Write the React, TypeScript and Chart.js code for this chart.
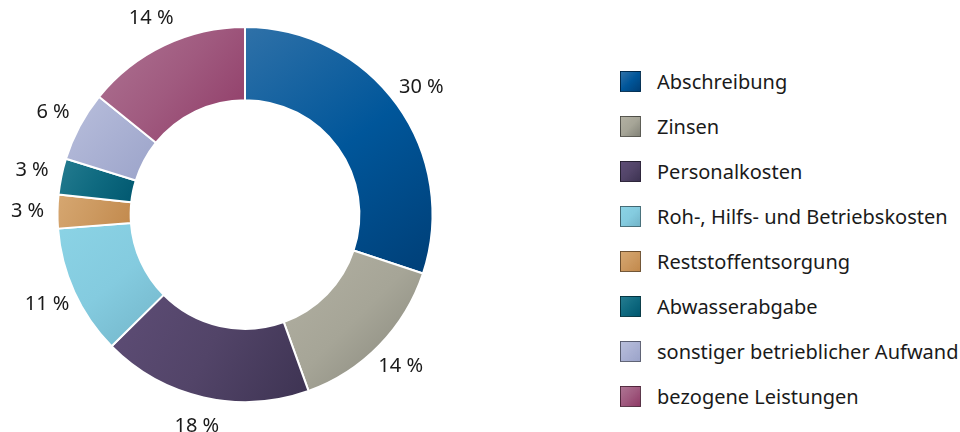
import React, { useEffect, useRef } from "react";
import { Chart, registerables } from "chart.js";

Chart.register(...registerables);

const categories = [
  "Abschreibung",
  "Zinsen",
  "Personalkosten",
  "Roh-, Hilfs- und Betriebskosten",
  "Reststoffentsorgung",
  "Abwasserabgabe",
  "sonstiger betrieblicher Aufwand",
  "bezogene Leistungen",
];
const shares = [30.1, 14.4, 18.1, 11.2, 2.9, 3.1, 6.0, 14.2];
const shareLabels = ["30 %", "14 %", "18 %", "11 %", "3 %", "3 %", "6 %", "14 %"];
const lightColors = ["#2f71a8", "#b3b1a3", "#5e4d76", "#8bd3e5", "#d6a771", "#257c90", "#b9bfdc", "#ae7493"];
const midColors = ["#00569a", "#a6a597", "#524468", "#84cbdf", "#cc9960", "#0f6a80", "#aab1d3", "#a05a7f"];
const darkColors = ["#003f77", "#838378", "#3d3352", "#72b4c8", "#c2894c", "#00576f", "#9ba3c9", "#8f3a66"];

const FONT = "'Noto Sans', sans-serif";

function sliceGradient(ctx: CanvasRenderingContext2D, area: any, idx: number) {
  const cx = (area.left + area.right) / 2;
  const cy = (area.top + area.bottom) / 2;
  const R = Math.min(area.right - area.left, area.bottom - area.top) / 2 - 1;
  const r = R * 0.61;
  const total = shares.reduce((a, b) => a + b, 0);
  let start = 0;
  for (let i = 0; i < idx; i++) start += shares[i];
  const a0 = -Math.PI / 2 + (start / total) * Math.PI * 2;
  const a1 = a0 + (shares[idx] / total) * Math.PI * 2;
  let minX = Infinity, minY = Infinity, maxX = -Infinity, maxY = -Infinity;
  for (let k = 0; k <= 24; k++) {
    const a = a0 + ((a1 - a0) * k) / 24;
    for (const rad of [R, r]) {
      const x = cx + rad * Math.cos(a);
      const y = cy + rad * Math.sin(a);
      minX = Math.min(minX, x); maxX = Math.max(maxX, x);
      minY = Math.min(minY, y); maxY = Math.max(maxY, y);
    }
  }
  const g = ctx.createLinearGradient(minX, minY, maxX, maxY);
  g.addColorStop(0, lightColors[idx]);
  g.addColorStop(0.5, midColors[idx]);
  g.addColorStop(1, darkColors[idx]);
  return g;
}

const labelPlugin = {
  id: "sliceLabels",
  afterDatasetsDraw(chart: any) {
    const ctx = chart.ctx;
    const meta = chart.getDatasetMeta(0);
    ctx.save();
    ctx.font = `20px ${FONT}`;
    ctx.fillStyle = "#1a1a1a";
    ctx.textAlign = "center";
    ctx.textBaseline = "middle";
    meta.data.forEach((arc: any, i: number) => {
      const p = arc.getProps(["x", "y", "startAngle", "endAngle", "outerRadius"], true);
      const mid = (p.startAngle + p.endAngle) / 2;
      const rr = p.outerRadius + 30;
      ctx.fillText(shareLabels[i], p.x + rr * Math.cos(mid), p.y + rr * Math.sin(mid));
    });
    ctx.restore();
  },
};

export default function App() {
  const ref = useRef<HTMLCanvasElement | null>(null);
  useEffect(() => {
    if (!ref.current) return;
    const chart = new Chart(ref.current, {
      type: "doughnut",
      data: {
        labels: categories,
        datasets: [
          {
            data: shares,
            backgroundColor: (c: any) => {
              const area = c.chart.chartArea;
              if (!area) return midColors[c.dataIndex];
              return sliceGradient(c.chart.ctx, area, c.dataIndex);
            },
            borderColor: "#ffffff",
            borderWidth: 2,
          },
        ],
      },
      options: {
        animation: false,
        responsive: true,
        maintainAspectRatio: false,
        cutout: "61%",
        layout: { padding: { top: 26, bottom: 29, left: 0, right: 0 } },
        plugins: { legend: { display: false }, tooltip: { enabled: false } },
      },
      plugins: [labelPlugin],
    });
    return () => chart.destroy();
  }, []);

  return (
    <div style={{ position: "absolute", left: 0, top: 0, width: 960, height: 432, background: "#fff", fontFamily: FONT }}>
      <div style={{ position: "absolute", left: 0, top: 0, width: 490, height: 432 }}>
        <canvas ref={ref} />
      </div>
      {categories.map((name, i) => (
        <div
          key={name}
          style={{ position: "absolute", left: 620, top: 81 + i * 45 - 12, height: 24, display: "flex", alignItems: "center", whiteSpace: "nowrap" }}
        >
          <span
            style={{
              display: "inline-block",
              width: 19,
              height: 19,
              border: "1px solid rgba(0,0,0,0.45)",
              background: `linear-gradient(135deg, ${lightColors[i]}, ${midColors[i]}, ${darkColors[i]})`,
            }}
          />
          <span style={{ marginLeft: 16, fontSize: 20, color: "#1a1a1a" }}>{name}</span>
        </div>
      ))}
    </div>
  );
}
